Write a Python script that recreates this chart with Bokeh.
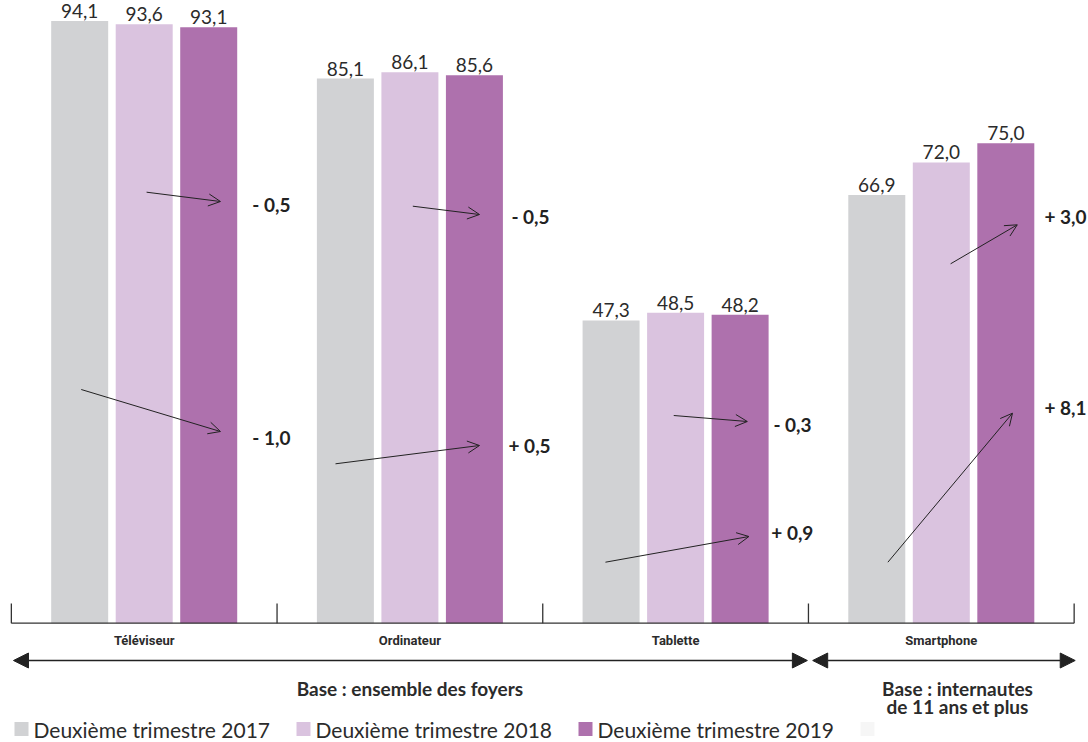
from bokeh.plotting import figure
from bokeh.models import ColumnDataSource, Range1d, Arrow, NormalHead, OpenHead
from bokeh.core.properties import value
from bokeh.embed import file_html
from bokeh.resources import INLINE

# ---------------- data ----------------
categories = ["Téléviseur", "Ordinateur", "Tablette", "Smartphone"]
v2017 = [94.1, 85.1, 47.3, 66.9]
v2018 = [93.6, 86.1, 48.5, 72.0]
v2019 = [93.1, 85.6, 48.2, 75.0]
series_labels = ["Deuxième trimestre 2017", "Deuxième trimestre 2018", "Deuxième trimestre 2019"]
base_left = "Base : ensemble des foyers"
base_right = ["Base : internautes", "de 11 ans et plus"]

# ---------------- style / layout ----------------
W, H = 1088, 742
X0_PX, X_SCALE = 10.85, 265.7      # pixel of x=0, pixels per group
Y0_PX, Y_SCALE = 622.7, 6.4        # pixel of value 0, pixels per percent point


def px_x(px):
    return (px - X0_PX) / X_SCALE


def px_y(py):
    return (Y0_PX - py) / Y_SCALE


colors = ["#d1d2d4", "#dac3df", "#ae71ad"]
extra_legend_color = "#f6f6f6"
TEXT = "#2b2b2b"
FONT = "Lato"
COND = "Roboto"
BAR_W = 0.2145
BAR_STEP = 0.2428

# change arrows (layout only): (x0 offset in group, y0 px, x1 offset, y1 px)
arrow_up = [(0.509, 191.7, 0.787, 201.0), (0.511, 205.7, 0.762, 214.0),
            (0.493, 415.0, 0.770, 421.0), (0.535, 263.3, 0.786, 224.3)]
arrow_lo = [(0.263, 389.0, 0.787, 431.0), (0.220, 463.3, 0.762, 445.0),
            (0.236, 561.7, 0.776, 536.0), (0.299, 561.7, 0.768, 412.7)]
lab_up = [(0.907, 204.0), (0.882, 216.0), (0.868, 424.0), (0.888, 216.0)]
lab_lo = [(0.907, 436.7), (0.871, 445.0), (0.860, 532.0), (0.888, 406.7)]


def fmt(v):
    return f"{v:.1f}".replace(".", ",")


def fmt_delta(d):
    d = round(d, 1)
    return ("+ " if d >= 0 else "- ") + f"{abs(d):.1f}".replace(".", ",")


n = len(categories)
p = figure(width=W, height=H, x_range=Range1d(px_x(0), px_x(W)),
           y_range=Range1d(px_y(H), px_y(0)), output_backend="svg",
           toolbar_location=None, min_border=0,
           x_axis_location=None, y_axis_location=None)
p.grid.visible = False
p.outline_line_color = None
p.background_fill_color = "white"

# bars
for k, (vals, col) in enumerate(zip([v2017, v2018, v2019], colors)):
    xs = [i + 0.5 + (k - 1) * BAR_STEP for i in range(n)]
    src = ColumnDataSource(dict(x=xs, top=vals, lab=[fmt(v) for v in vals]))
    p.vbar(x="x", top="top", bottom=0, width=BAR_W, source=src,
           fill_color=col, line_color=None)
    p.text(x="x", y="top", text="lab", source=src, text_align="center",
           text_baseline="middle", y_offset=-10, text_font=value(FONT),
           text_font_size="19px", text_color=TEXT)

# baseline axis and boundary ticks
p.segment(x0=[0], y0=[0], x1=[n], y1=[0], line_color="#333333", line_width=1.3)
p.segment(x0=list(range(n + 1)), y0=[0] * (n + 1), x1=list(range(n + 1)),
          y1=[px_y(603)] * (n + 1), line_color="#333333", line_width=1.3)

# category labels
p.text(x=[i + 0.5 for i in range(n)], y=[px_y(640)] * n, text=categories,
       text_align="center", text_baseline="middle", text_font=value(COND),
       text_font_style="bold", text_font_size="13px", text_color=TEXT)

# change arrows and labels
for i in range(n):
    for (x0, y0, x1, y1) in (arrow_up[i], arrow_lo[i]):
        p.add_layout(Arrow(x_start=i + x0, y_start=px_y(y0), x_end=i + x1, y_end=px_y(y1),
                           line_color="#222222", line_width=1,
                           end=OpenHead(size=12, line_color="#222222", line_width=1)))
deltas_up = [fmt_delta(c - b) for b, c in zip(v2018, v2019)]
deltas_lo = [fmt_delta(c - a) for a, c in zip(v2017, v2019)]
p.text(x=[i + lab_up[i][0] for i in range(n)] + [i + lab_lo[i][0] for i in range(n)],
       y=[px_y(lab_up[i][1]) for i in range(n)] + [px_y(lab_lo[i][1]) for i in range(n)],
       text=deltas_up + deltas_lo, text_align="left", text_baseline="middle",
       text_font=value(FONT), text_font_style="bold", text_font_size="19px",
       text_color="#222222")

# base double arrows
for xa, xb in ((0.008, 2.996), (3.016, 4.004)):
    p.add_layout(Arrow(x_start=xa, y_start=px_y(660), x_end=xb, y_end=px_y(660),
                       line_color="#222222", line_width=1.6,
                       start=NormalHead(size=15, fill_color="#222222", line_color="#222222"),
                       end=NormalHead(size=15, fill_color="#222222", line_color="#222222")))

p.text(x=[1.5], y=[px_y(688)], text=[base_left], text_align="center",
       text_baseline="middle", text_font=value(FONT), text_font_style="bold",
       text_font_size="19px", text_color=TEXT)
p.text(x=[px_x(957)] * 2, y=[px_y(688), px_y(706)], text=base_right, text_align="center",
       text_baseline="middle", text_font=value(FONT), text_font_style="bold",
       text_font_size="19px", text_color=TEXT)

# legend (drawn)
LEG_STEP = 282
sq_x = [px_x(21 + k * LEG_STEP) for k in range(4)]
p.scatter(x=sq_x, y=[px_y(728.5)] * 4, marker="square", size=14,
          fill_color=colors + [extra_legend_color], line_color=None)
p.text(x=[px_x(33 + k * LEG_STEP) for k in range(3)], y=[px_y(728.5)] * 3, text=series_labels,
       text_align="left", text_baseline="middle", text_font=value(FONT),
       text_font_size="21px", text_color=TEXT)

open("out.html", "w").write(file_html(p, INLINE))
